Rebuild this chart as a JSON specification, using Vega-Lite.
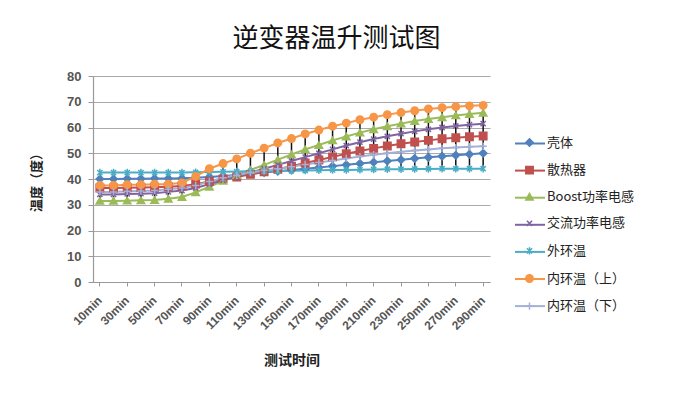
{
  "$schema": "https://vega.github.io/schema/vega-lite/v6.json",
  "width": 397,
  "height": 206,
  "autosize": {"type": "none"},
  "padding": {"left": 93, "top": 76, "right": 187, "bottom": 117},
  "background": "white",
  "title": {
    "text": "逆变器温升测试图",
    "font": "Noto Sans CJK SC",
    "fontSize": 26,
    "fontWeight": "normal",
    "color": "#111",
    "anchor": "middle",
    "dx": 45,
    "offset": 18
  },
  "config": {
    "view": {"stroke": null},
    "font": "Noto Sans CJK SC",
    "axis": {"labelFont": "Liberation Sans", "labelFontWeight": "bold", "labelColor": "#555", "titleFont": "Noto Sans CJK SC", "titleFontWeight": "bold", "titleColor": "#222"},
    "legend": {"orient": "none", "legendY": 60, "labelFontSize": 13, "labelColor": "#222", "labelFont": "Noto Sans CJK SC", "rowPadding": 12.6, "padding": 0}
  },
  "data": {
    "values": [
      {"t":"10min","s":"壳体","v":40},{"t":"20min","s":"壳体","v":40},{"t":"30min","s":"壳体","v":40.1},{"t":"40min","s":"壳体","v":40.1},{"t":"50min","s":"壳体","v":40.2},{"t":"60min","s":"壳体","v":40.2},{"t":"70min","s":"壳体","v":40.3},{"t":"80min","s":"壳体","v":40.5},{"t":"90min","s":"壳体","v":40.8},{"t":"100min","s":"壳体","v":41.2},{"t":"110min","s":"壳体","v":41.6},{"t":"120min","s":"壳体","v":42},{"t":"130min","s":"壳体","v":42.5},{"t":"140min","s":"壳体","v":43},{"t":"150min","s":"壳体","v":43.5},{"t":"160min","s":"壳体","v":44},{"t":"170min","s":"壳体","v":44.5},{"t":"180min","s":"壳体","v":45},{"t":"190min","s":"壳体","v":45.5},{"t":"200min","s":"壳体","v":46},{"t":"210min","s":"壳体","v":46.5},{"t":"220min","s":"壳体","v":47},{"t":"230min","s":"壳体","v":47.5},{"t":"240min","s":"壳体","v":48},{"t":"250min","s":"壳体","v":48.4},{"t":"260min","s":"壳体","v":48.8},{"t":"270min","s":"壳体","v":49.2},{"t":"280min","s":"壳体","v":49.6},{"t":"290min","s":"壳体","v":50},
      {"t":"10min","s":"散热器","v":36.5},{"t":"20min","s":"散热器","v":36.5},{"t":"30min","s":"散热器","v":36.6},{"t":"40min","s":"散热器","v":36.7},{"t":"50min","s":"散热器","v":36.8},{"t":"60min","s":"散热器","v":37},{"t":"70min","s":"散热器","v":37.3},{"t":"80min","s":"散热器","v":38},{"t":"90min","s":"散热器","v":39},{"t":"100min","s":"散热器","v":40},{"t":"110min","s":"散热器","v":40.8},{"t":"120min","s":"散热器","v":41.8},{"t":"130min","s":"散热器","v":42.8},{"t":"140min","s":"散热器","v":43.8},{"t":"150min","s":"散热器","v":45},{"t":"160min","s":"散热器","v":46.2},{"t":"170min","s":"散热器","v":47.4},{"t":"180min","s":"散热器","v":48.6},{"t":"190min","s":"散热器","v":49.8},{"t":"200min","s":"散热器","v":50.9},{"t":"210min","s":"散热器","v":51.9},{"t":"220min","s":"散热器","v":52.8},{"t":"230min","s":"散热器","v":53.7},{"t":"240min","s":"散热器","v":54.4},{"t":"250min","s":"散热器","v":55},{"t":"260min","s":"散热器","v":55.6},{"t":"270min","s":"散热器","v":56},{"t":"280min","s":"散热器","v":56.4},{"t":"290min","s":"散热器","v":56.7},
      {"t":"10min","s":"Boost功率电感","v":31.5},{"t":"20min","s":"Boost功率电感","v":31.5},{"t":"30min","s":"Boost功率电感","v":31.6},{"t":"40min","s":"Boost功率电感","v":31.7},{"t":"50min","s":"Boost功率电感","v":31.8},{"t":"60min","s":"Boost功率电感","v":32.3},{"t":"70min","s":"Boost功率电感","v":33},{"t":"80min","s":"Boost功率电感","v":34.8},{"t":"90min","s":"Boost功率电感","v":37},{"t":"100min","s":"Boost功率电感","v":39.3},{"t":"110min","s":"Boost功率电感","v":41.5},{"t":"120min","s":"Boost功率电感","v":43.5},{"t":"130min","s":"Boost功率电感","v":45.5},{"t":"140min","s":"Boost功率电感","v":47.5},{"t":"150min","s":"Boost功率电感","v":49.5},{"t":"160min","s":"Boost功率电感","v":51.5},{"t":"170min","s":"Boost功率电感","v":53.2},{"t":"180min","s":"Boost功率电感","v":55},{"t":"190min","s":"Boost功率电感","v":56.5},{"t":"200min","s":"Boost功率电感","v":58},{"t":"210min","s":"Boost功率电感","v":59.3},{"t":"220min","s":"Boost功率电感","v":60.5},{"t":"230min","s":"Boost功率电感","v":61.5},{"t":"240min","s":"Boost功率电感","v":62.5},{"t":"250min","s":"Boost功率电感","v":63.3},{"t":"260min","s":"Boost功率电感","v":64},{"t":"270min","s":"Boost功率电感","v":64.7},{"t":"280min","s":"Boost功率电感","v":65.2},{"t":"290min","s":"Boost功率电感","v":65.7},
      {"t":"10min","s":"交流功率电感","v":34},{"t":"20min","s":"交流功率电感","v":34},{"t":"30min","s":"交流功率电感","v":34.2},{"t":"40min","s":"交流功率电感","v":34.3},{"t":"50min","s":"交流功率电感","v":34.5},{"t":"60min","s":"交流功率电感","v":35},{"t":"70min","s":"交流功率电感","v":35.5},{"t":"80min","s":"交流功率电感","v":36.5},{"t":"90min","s":"交流功率电感","v":38},{"t":"100min","s":"交流功率电感","v":39.5},{"t":"110min","s":"交流功率电感","v":41},{"t":"120min","s":"交流功率电感","v":42.5},{"t":"130min","s":"交流功率电感","v":44},{"t":"140min","s":"交流功率电感","v":45.5},{"t":"150min","s":"交流功率电感","v":47},{"t":"160min","s":"交流功率电感","v":48.5},{"t":"170min","s":"交流功率电感","v":50},{"t":"180min","s":"交流功率电感","v":51.5},{"t":"190min","s":"交流功率电感","v":53},{"t":"200min","s":"交流功率电感","v":54.3},{"t":"210min","s":"交流功率电感","v":55.5},{"t":"220min","s":"交流功率电感","v":56.6},{"t":"230min","s":"交流功率电感","v":57.6},{"t":"240min","s":"交流功率电感","v":58.5},{"t":"250min","s":"交流功率电感","v":59.3},{"t":"260min","s":"交流功率电感","v":60},{"t":"270min","s":"交流功率电感","v":60.6},{"t":"280min","s":"交流功率电感","v":61.1},{"t":"290min","s":"交流功率电感","v":61.5},
      {"t":"10min","s":"外环温","v":42.5},{"t":"20min","s":"外环温","v":42.5},{"t":"30min","s":"外环温","v":42.5},{"t":"40min","s":"外环温","v":42.5},{"t":"50min","s":"外环温","v":42.5},{"t":"60min","s":"外环温","v":42.5},{"t":"70min","s":"外环温","v":42.5},{"t":"80min","s":"外环温","v":42.6},{"t":"90min","s":"外环温","v":42.7},{"t":"100min","s":"外环温","v":42.8},{"t":"110min","s":"外环温","v":42.9},{"t":"120min","s":"外环温","v":43},{"t":"130min","s":"外环温","v":43},{"t":"140min","s":"外环温","v":43.1},{"t":"150min","s":"外环温","v":43.2},{"t":"160min","s":"外环温","v":43.3},{"t":"170min","s":"外环温","v":43.4},{"t":"180min","s":"外环温","v":43.5},{"t":"190min","s":"外环温","v":43.5},{"t":"200min","s":"外环温","v":43.6},{"t":"210min","s":"外环温","v":43.7},{"t":"220min","s":"外环温","v":43.8},{"t":"230min","s":"外环温","v":43.8},{"t":"240min","s":"外环温","v":43.9},{"t":"250min","s":"外环温","v":43.9},{"t":"260min","s":"外环温","v":44},{"t":"270min","s":"外环温","v":44},{"t":"280min","s":"外环温","v":44},{"t":"290min","s":"外环温","v":44},
      {"t":"10min","s":"内环温（上）","v":37.5},{"t":"20min","s":"内环温（上）","v":37.5},{"t":"30min","s":"内环温（上）","v":37.8},{"t":"40min","s":"内环温（上）","v":37.8},{"t":"50min","s":"内环温（上）","v":38},{"t":"60min","s":"内环温（上）","v":38},{"t":"70min","s":"内环温（上）","v":38.5},{"t":"80min","s":"内环温（上）","v":41},{"t":"90min","s":"内环温（上）","v":44},{"t":"100min","s":"内环温（上）","v":46},{"t":"110min","s":"内环温（上）","v":47.8},{"t":"120min","s":"内环温（上）","v":50},{"t":"130min","s":"内环温（上）","v":52},{"t":"140min","s":"内环温（上）","v":54},{"t":"150min","s":"内环温（上）","v":55.7},{"t":"160min","s":"内环温（上）","v":57.5},{"t":"170min","s":"内环温（上）","v":59},{"t":"180min","s":"内环温（上）","v":60.5},{"t":"190min","s":"内环温（上）","v":61.7},{"t":"200min","s":"内环温（上）","v":63},{"t":"210min","s":"内环温（上）","v":64},{"t":"220min","s":"内环温（上）","v":65},{"t":"230min","s":"内环温（上）","v":65.8},{"t":"240min","s":"内环温（上）","v":66.5},{"t":"250min","s":"内环温（上）","v":67.2},{"t":"260min","s":"内环温（上）","v":67.7},{"t":"270min","s":"内环温（上）","v":68.1},{"t":"280min","s":"内环温（上）","v":68.4},{"t":"290min","s":"内环温（上）","v":68.6},
      {"t":"10min","s":"内环温（下）","v":35},{"t":"20min","s":"内环温（下）","v":35},{"t":"30min","s":"内环温（下）","v":35.2},{"t":"40min","s":"内环温（下）","v":35.3},{"t":"50min","s":"内环温（下）","v":35.5},{"t":"60min","s":"内环温（下）","v":36},{"t":"70min","s":"内环温（下）","v":36.5},{"t":"80min","s":"内环温（下）","v":37.5},{"t":"90min","s":"内环温（下）","v":39},{"t":"100min","s":"内环温（下）","v":40.5},{"t":"110min","s":"内环温（下）","v":41.5},{"t":"120min","s":"内环温（下）","v":42.5},{"t":"130min","s":"内环温（下）","v":43.3},{"t":"140min","s":"内环温（下）","v":44},{"t":"150min","s":"内环温（下）","v":44.8},{"t":"160min","s":"内环温（下）","v":45.6},{"t":"170min","s":"内环温（下）","v":46.4},{"t":"180min","s":"内环温（下）","v":47.2},{"t":"190min","s":"内环温（下）","v":48},{"t":"200min","s":"内环温（下）","v":48.7},{"t":"210min","s":"内环温（下）","v":49.4},{"t":"220min","s":"内环温（下）","v":50},{"t":"230min","s":"内环温（下）","v":50.6},{"t":"240min","s":"内环温（下）","v":51.1},{"t":"250min","s":"内环温（下）","v":51.5},{"t":"260min","s":"内环温（下）","v":51.9},{"t":"270min","s":"内环温（下）","v":52.2},{"t":"280min","s":"内环温（下）","v":52.5},{"t":"290min","s":"内环温（下）","v":52.7}
    ]
  },
  "encoding": {
    "x": {
      "field": "t", "type": "ordinal", "sort": null,
      "scale": {"paddingInner": 0, "paddingOuter": 0},
      "axis": {
        "title": "测试时间", "titleFontSize": 14, "titlePadding": 22,
        "values": ["10min","30min","50min","70min","90min","110min","130min","150min","170min","190min","210min","230min","250min","270min","290min"],
        "labelAngle": -45, "labelAlign": "right", "labelBaseline": "middle", "labelFontSize": 12, "labelPadding": 12,
        "ticks": true, "tickSize": 4, "tickColor": "#999", "domainColor": "#999", "domainWidth": 1.2, "grid": false
      }
    },
    "y": {
      "field": "v", "type": "quantitative",
      "scale": {"domain": [0, 80], "nice": false},
      "axis": {
        "title": "温度（度）", "titleFontSize": 13, "titlePadding": 23,
        "values": [0,10,20,30,40,50,60,70,80], "labelFontSize": 13, "labelPadding": 7,
        "tickSize": 5, "tickColor": "#999", "domainColor": "#999", "domainWidth": 1.2,
        "grid": true, "gridColor": "#aaa", "gridWidth": 1.2
      }
    }
  },
  "layer": [
    {
      "mark": {"type": "line", "strokeWidth": 2},
      "encoding": {
        "color": {"field": "s", "type": "nominal",
          "legend": {"title": null, "legendX": 421, "legendY": 51.5, "rowPadding": 4.1, "symbolType": "stroke", "symbolSize": 900, "symbolStrokeWidth": 2, "labelExpr": "''", "labelOffset": 4,
            "values": ["壳体","散热器","Boost功率电感","交流功率电感","外环温","内环温（上）","内环温（下）"]},
          "scale": {"domain": ["壳体","散热器","Boost功率电感","交流功率电感","外环温","内环温（上）","内环温（下）","_"],
                    "range": ["#4F81BD","#C0504D","#9BBB59","#8064A2","#4BACC6","#F79646","#A3B1D8","#000000"]}}
      }
    },
    {
      "mark": {"type": "rule", "color": "#111", "strokeWidth": 1.5},
      "encoding": {
        "y": {"aggregate": "min", "field": "v", "type": "quantitative"},
        "y2": {"aggregate": "max", "field": "v"}
      }
    },
    {
      "mark": {"type": "point", "filled": true, "size": 55, "strokeWidth": 1.5, "opacity": 1},
      "encoding": {
        "fill": {"field": "s", "type": "nominal", "legend": {"title": null, "legendX": 430, "symbolSize": 55, "symbolStrokeWidth": 1.5, "labelOffset": 11},
          "scale": {"domain": ["壳体","散热器","Boost功率电感","交流功率电感","外环温","内环温（上）","内环温（下）"],
                    "range": ["#4F81BD","#C0504D","#9BBB59","#8064A2","#4BACC6","#F79646","#A3B1D8"]}},
        "stroke": {"field": "s", "type": "nominal", "legend": {"title": null, "legendX": 430, "symbolSize": 55, "symbolStrokeWidth": 1.5, "labelOffset": 11},
          "scale": {"domain": ["壳体","散热器","Boost功率电感","交流功率电感","外环温","内环温（上）","内环温（下）"],
                    "range": ["#4F81BD","#C0504D","#9BBB59","#8064A2","#4BACC6","#F79646","#A3B1D8"]}},
        "shape": {"field": "s", "type": "nominal", "legend": {"title": null, "legendX": 430, "symbolSize": 55, "symbolStrokeWidth": 1.5, "labelOffset": 11},
          "scale": {"domain": ["壳体","散热器","Boost功率电感","交流功率电感","外环温","内环温（上）","内环温（下）"],
                    "range": ["diamond","square","triangle-up","M-0.7,-0.7L0.7,0.7M-0.7,0.7L0.7,-0.7","M-0.7,-0.7L0.7,0.7M-0.7,0.7L0.7,-0.7M0,-1L0,1","circle","M-1,0L1,0M0,-1L0,1"]}}
      }
    }
  ]
}
